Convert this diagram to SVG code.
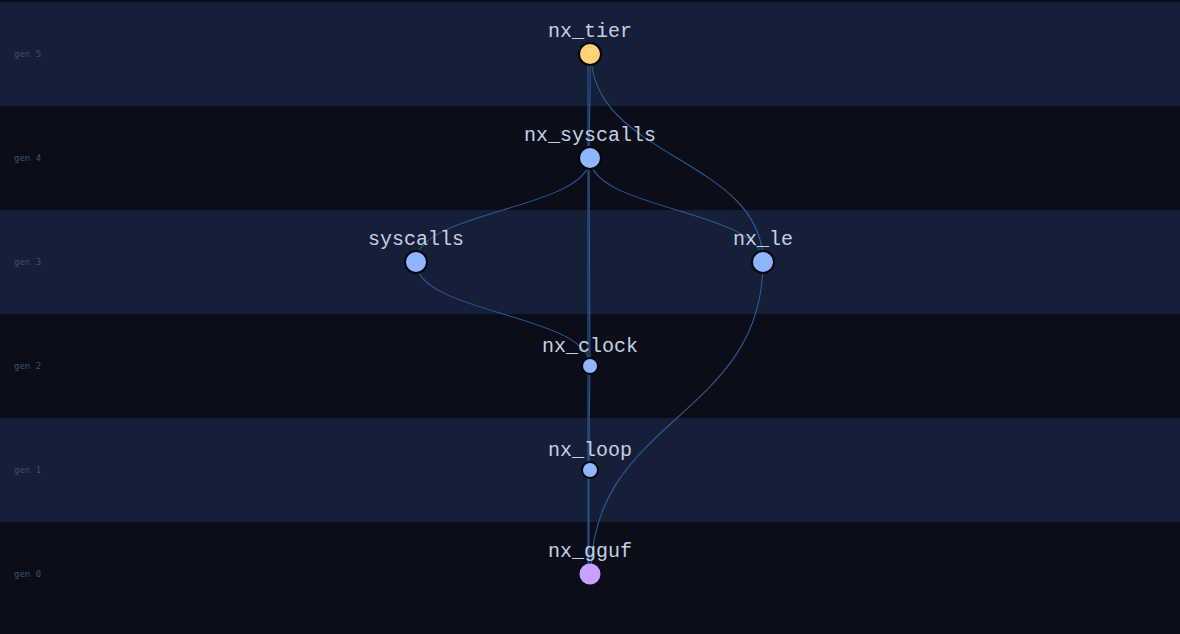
<svg xmlns="http://www.w3.org/2000/svg" width="1180" height="634" viewBox="0 0 1180 634">
<style>
.bl{fill:#151f37}.bd{fill:#0b0e18}
.gen{font-family:"DejaVu Sans Mono","Liberation Mono",monospace;font-size:9px;fill:#3e4e70}
.lbl{font-family:"Liberation Mono","DejaVu Sans Mono",monospace;font-size:20px;fill:#c5d0e6;text-anchor:middle}
.e{fill:none;stroke:#2c5a98;stroke-width:1.1}
.n{stroke:#05070d;stroke-width:2}
</style>
<rect x="0" y="0" width="1180" height="634" class="bd"/>
<g id="bands">
<rect x="0" y="2" width="1180" height="104" class="bl"/>
<rect x="0" y="106" width="1180" height="104" class="bd"/>
<rect x="0" y="210" width="1180" height="104" class="bl"/>
<rect x="0" y="314" width="1180" height="104" class="bd"/>
<rect x="0" y="418" width="1180" height="104" class="bl"/>
<rect x="0" y="522" width="1180" height="112" class="bd"/>
<text class="gen" x="14" y="57">gen 5</text>
<text class="gen" x="14" y="161">gen 4</text>
<text class="gen" x="14" y="265">gen 3</text>
<text class="gen" x="14" y="369">gen 2</text>
<text class="gen" x="14" y="473">gen 1</text>
<text class="gen" x="14" y="577">gen 0</text>
</g>
<g id="connectors">
<path class="e" d="M588,54 L588,158"/>
<path class="e" d="M590,54 C591,106 589,106 589,158"/>
<path class="e" d="M591,54 C591,158 763,158 763,262"/>
<path class="e" d="M590,158 C590,210 416,210 416,262"/>
<path class="e" d="M590,158 C590,210 763,210 763,262"/>
<path class="e" d="M588,158 L588,574" stroke-width="1.6"/>
<path class="e" d="M589,158 C589,260 590,300 590,366"/>
<path class="e" d="M416,262 C416,314 590,314 590,366"/>
<path class="e" d="M590,366 C589,418 589,418 589,470"/>
<path class="e" d="M589,470 L589,574"/>
<path class="e" d="M763,262 C763,418 591,418 591,574"/>
</g>
<g id="nx_tier"><circle class="n" cx="590" cy="54" r="11" fill="#ffd27a"/><text class="lbl" x="590" y="37">nx_tier</text></g>
<g id="nx_syscalls"><circle class="n" cx="590" cy="158" r="11" fill="#8fb5ff"/><text class="lbl" x="590" y="141">nx_syscalls</text></g>
<g id="syscalls"><circle class="n" cx="416" cy="262" r="11" fill="#8fb5ff"/><text class="lbl" x="416" y="245">syscalls</text></g>
<g id="nx_le"><circle class="n" cx="763" cy="262" r="11" fill="#8fb5ff"/><text class="lbl" x="763" y="245">nx_le</text></g>
<g id="nx_clock"><circle class="n" cx="590" cy="366" r="8" fill="#8fb5ff"/><text class="lbl" x="590" y="352">nx_clock</text></g>
<g id="nx_loop"><circle class="n" cx="590" cy="470" r="8" fill="#8fb5ff"/><text class="lbl" x="590" y="456">nx_loop</text></g>
<g id="nx_gguf"><circle cx="590" cy="574" r="10.5" fill="#c9a0ff"/><text class="lbl" x="590" y="557">nx_gguf</text></g>
</svg>
